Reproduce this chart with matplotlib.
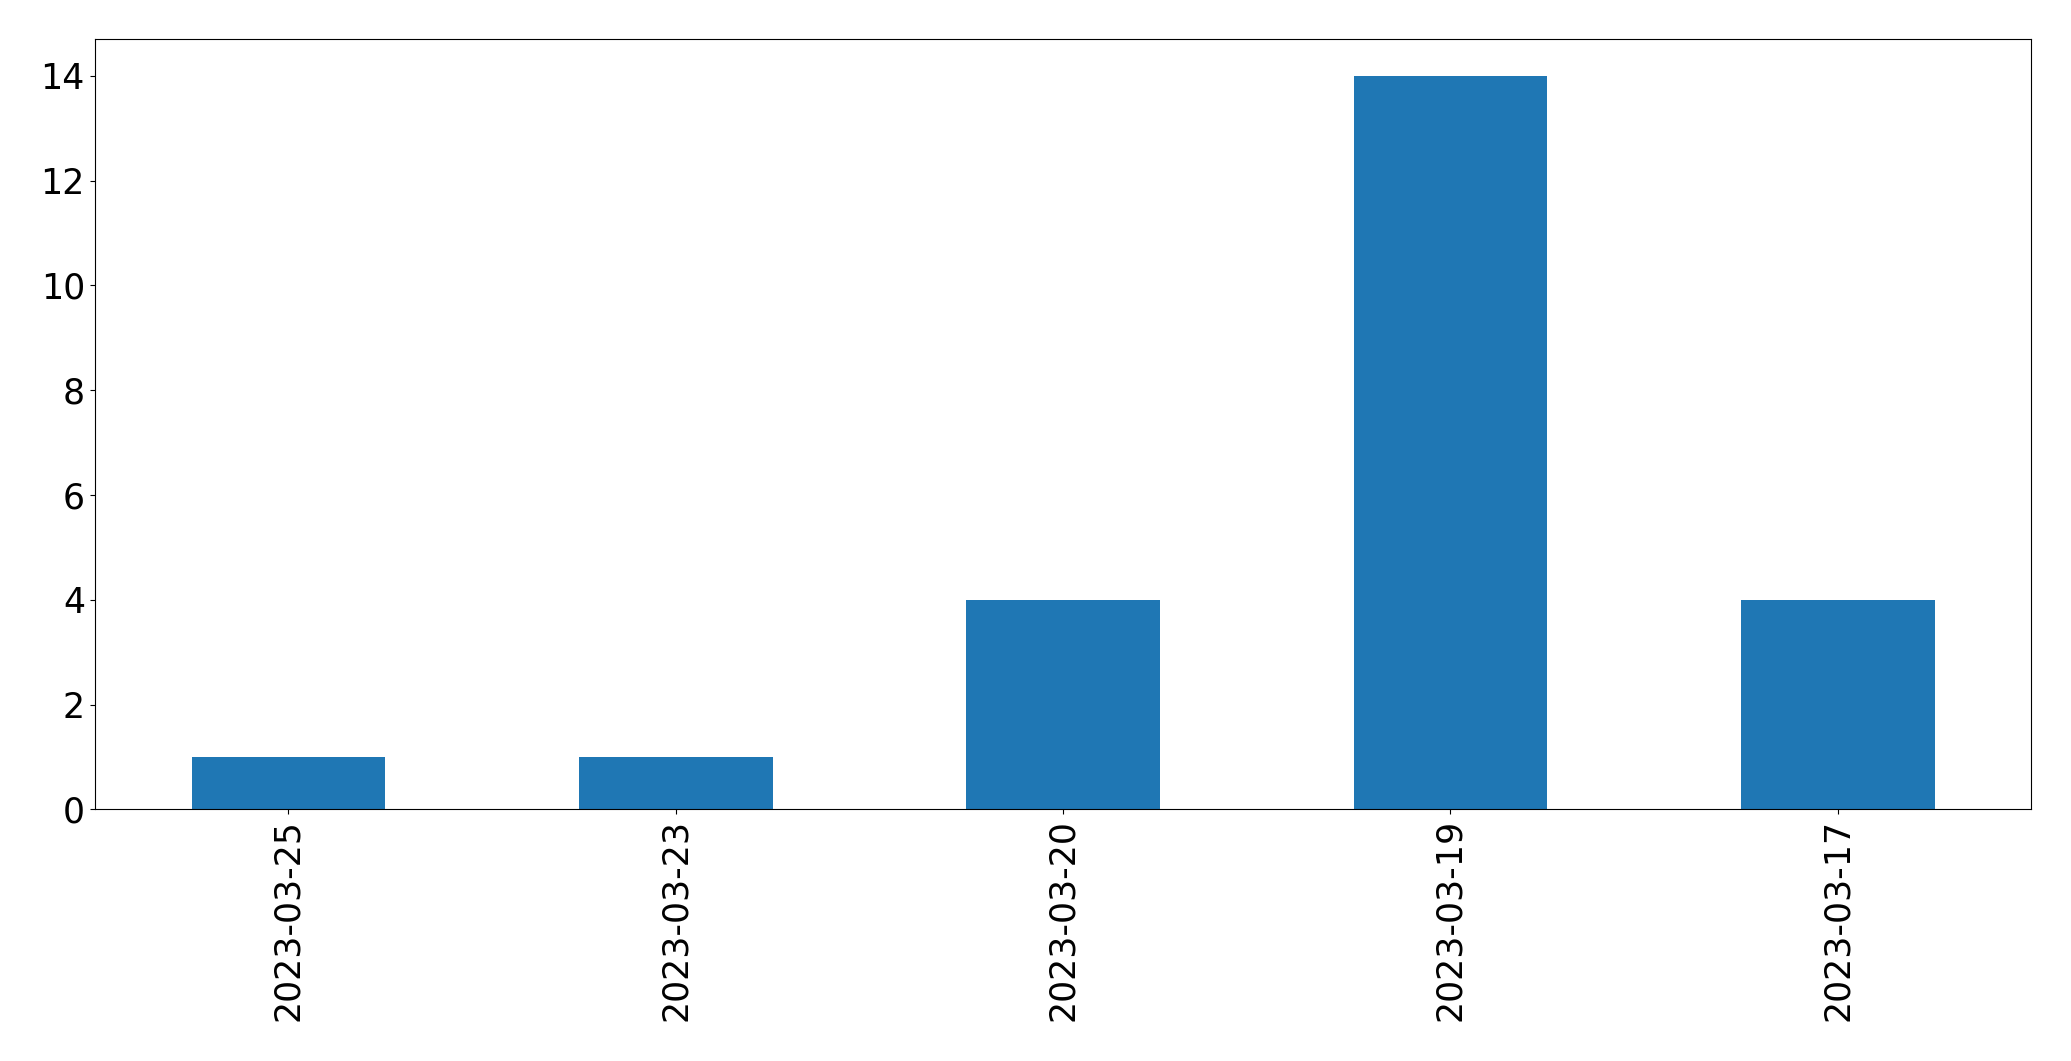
import matplotlib
matplotlib.use('Agg')
import matplotlib.pyplot as plt
import numpy as np

dates = ['2023-03-25', '2023-03-23', '2023-03-20', '2023-03-19', '2023-03-17']
counts = [1, 1, 4, 14, 4]

fig = plt.figure(figsize=(20.71, 10.61), dpi=100)
ax = fig.add_axes([94.7 / 2071, 1 - 809.3 / 1061,
                   (2031.4 - 94.7) / 2071, (809.3 - 39.3) / 1061])

x = np.arange(len(dates))
ax.bar(x, counts, width=0.5, color='#1f77b4')
ax.set_xlim(-0.5, len(dates) - 0.5)
ax.set_ylim(0, 14.7)
ax.set_xticks(x)
ax.set_xticklabels(dates, rotation=90)
ax.set_yticks(np.arange(0, 15, 2))
ax.tick_params(labelsize=25)

fig.savefig('out.png', dpi=100)
